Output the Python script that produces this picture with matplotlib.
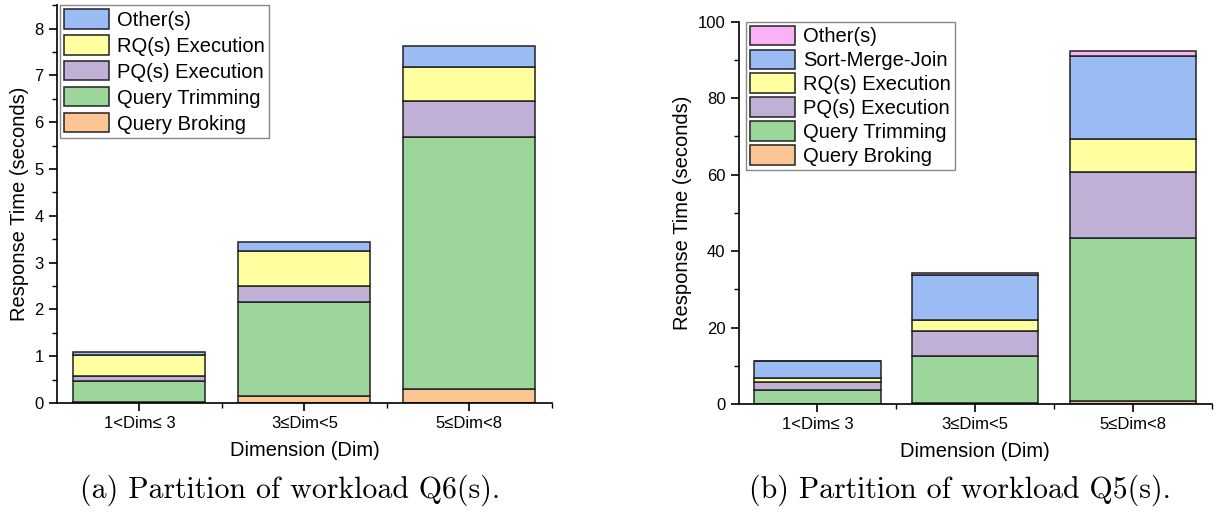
import numpy as np
import matplotlib.pyplot as plt
from matplotlib.ticker import MultipleLocator

plt.rcParams['font.family'] = ['Liberation Sans', 'DejaVu Sans']

categories = ['1<Dim\u2264 3', '3\u2264Dim<5', '5\u2264Dim<8']

# (a) Q6(s)
q6_broking = [0.03, 0.14, 0.29]
q6_trimming = [0.45, 2.01, 5.40]
q6_pq = [0.09, 0.35, 0.76]
q6_rq = [0.46, 0.75, 0.73]
q6_other = [0.05, 0.20, 0.45]

# (b) Q5(s)
q5_broking = [0.1, 0.3, 0.9]
q5_trimming = [3.65, 12.3, 42.6]
q5_pq = [1.95, 6.6, 17.3]
q5_rq = [1.05, 2.9, 8.6]
q5_smj = [4.55, 11.8, 21.6]
q5_other = [0.1, 0.5, 1.4]

c_orange = '#FDC594'
c_green = '#9DD69B'
c_purple = '#C0B0D6'
c_yellow = '#FFFFA0'
c_blue = '#9ABBF3'
c_pink = '#F9B2F5'

fig = plt.figure(figsize=(12.25, 5.2), dpi=100)
ax1 = fig.add_axes([0.0465, 0.225, 0.404, 0.765])
ax2 = fig.add_axes([0.603, 0.2225, 0.386, 0.736])


def draw(ax, series, ymax, ymaj, ymin, legx, lspace):
    x = np.arange(1, len(categories) + 1)
    bottom = np.zeros(len(categories))
    handles = []
    for vals, col, lab in series:
        h = ax.bar(x, vals, 0.8, bottom=bottom, color=col, edgecolor='#222222',
                   linewidth=1.1, label=lab)
        bottom += np.array(vals)
        handles.append(h)
    ax.set_xlim(0.5, 3.5)
    ax.set_ylim(0, ymax)
    ax.set_xticks(x)
    ax.set_xticklabels(categories)
    ax.set_xticks([1.5, 2.5, 3.5], minor=True)
    ax.yaxis.set_major_locator(MultipleLocator(ymaj))
    ax.yaxis.set_minor_locator(MultipleLocator(ymin))
    for s in ['top', 'right']:
        ax.spines[s].set_visible(False)
    for s in ['left', 'bottom']:
        ax.spines[s].set_linewidth(1.2)
    ax.tick_params(which='major', direction='out', length=6, width=1.2, labelsize=12)
    ax.tick_params(which='minor', direction='out', length=3.5, width=1.0)
    ax.set_xlabel('Dimension (Dim)', fontsize=14.5, labelpad=7)
    ax.set_ylabel('Response Time (seconds)', fontsize=14.5, labelpad=4)
    leg = ax.legend(handles[::-1], [h.get_label() for h in handles[::-1]],
                    loc='upper left', bbox_to_anchor=(legx, 1.0), fontsize=14.5,
                    fancybox=False, edgecolor='#888888', framealpha=1,
                    handlelength=2.25, handleheight=1.1, labelspacing=lspace,
                    handletextpad=0.4, borderpad=0.2, borderaxespad=0.0)
    leg.get_frame().set_linewidth(1.0)


draw(ax1, [(q6_broking, c_orange, 'Query Broking'),
           (q6_trimming, c_green, 'Query Trimming'),
           (q6_pq, c_purple, 'PQ(s) Execution'),
           (q6_rq, c_yellow, 'RQ(s) Execution'),
           (q6_other, c_blue, 'Other(s)')], 8.5, 1, 0.5, 0.006, 0.27)

draw(ax2, [(q5_broking, c_orange, 'Query Broking'),
           (q5_trimming, c_green, 'Query Trimming'),
           (q5_pq, c_purple, 'PQ(s) Execution'),
           (q5_rq, c_yellow, 'RQ(s) Execution'),
           (q5_smj, c_blue, 'Sort-Merge-Join'),
           (q5_other, c_pink, 'Other(s)')], 100, 20, 10, 0.015, 0.17)

fig.text(290 / 1225, 1 - 490 / 520, '(a) Partition of workload Q6(s).',
         family=['cmr10', 'DejaVu Serif'], fontsize=21.5, ha='center', va='center')
fig.text(960 / 1225, 1 - 490 / 520, '(b) Partition of workload Q5(s).',
         family=['cmr10', 'DejaVu Serif'], fontsize=21.5, ha='center', va='center')

fig.savefig('out.png', dpi=100)
